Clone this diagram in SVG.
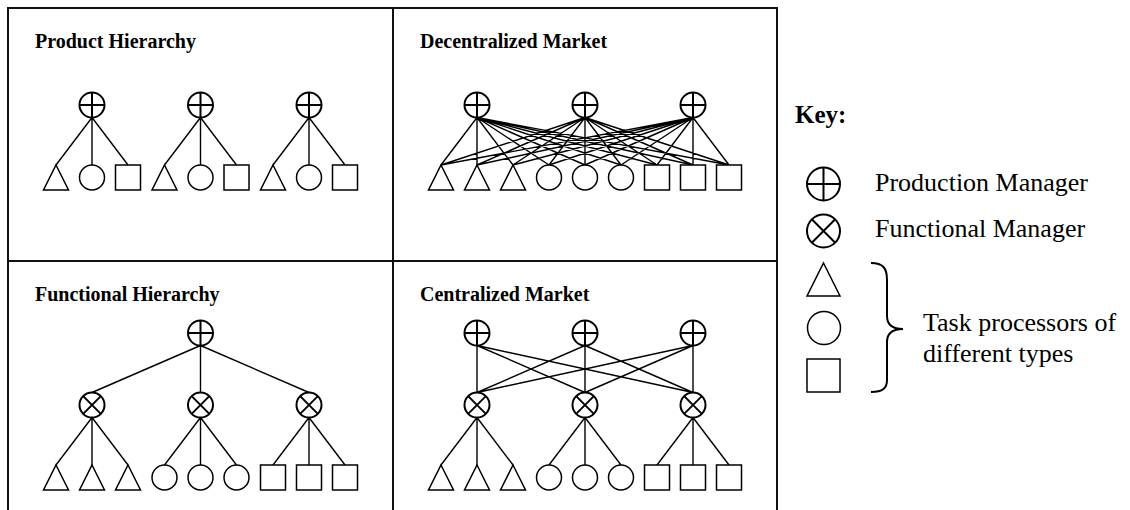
<svg xmlns="http://www.w3.org/2000/svg" xmlns:xlink="http://www.w3.org/1999/xlink" width="1130" height="510" viewBox="0 0 1130 510">
<style>
.frame{fill:none;stroke:#111;stroke-width:2}
.edge{stroke:#000;stroke-width:1.4;fill:none}
.mgr{fill:#fff;stroke:#000;stroke-width:2}
.mline{stroke:#000;stroke-width:2;fill:none}
.proc{fill:#fff;stroke:#000;stroke-width:1.5}
.title{font-family:"Liberation Serif","Times New Roman",serif;font-weight:bold;font-size:20px;fill:#000}
.key{font-family:"Liberation Serif","Times New Roman",serif;font-size:26px;fill:#000}
.keyb{font-family:"Liberation Serif","Times New Roman",serif;font-weight:bold;font-size:25px;fill:#000}
</style>
<defs>
<g id="pm"><circle r="12.5" class="mgr"/><path class="mline" d="M0,-12.5V12.5M-12.5,0H12.5"/></g>
<g id="fm"><circle r="12.5" class="mgr"/><path class="mline" d="M-8.84,-8.84L8.84,8.84M-8.84,8.84L8.84,-8.84"/></g>
<path id="tri" class="proc" d="M0,-12.5L12.5,12.5H-12.5Z"/>
<circle id="circ" class="proc" r="12.5"/>
<rect id="sq" class="proc" x="-12.5" y="-12.5" width="25" height="25"/>
</defs>
<rect width="1130" height="510" fill="#fff"/>
<g id="frame">
<path class="frame" d="M8,510V8H777V510M393,8V510M8,261H777"/>
</g>
<g id="titles">
<text class="title" x="35" y="48">Product Hierarchy</text>
<text class="title" x="420" y="48">Decentralized Market</text>
<text class="title" x="35" y="301">Functional Hierarchy</text>
<text class="title" x="420" y="301">Centralized Market</text>
</g>
<g id="connectors">
<path class="edge" d="M92,117.5L56,165M92,117.5L92,165M92,117.5L128,165M200.5,117.5L164.5,165M200.5,117.5L200.5,165M200.5,117.5L236.5,165M309,117.5L273,165M309,117.5L309,165M309,117.5L345,165"/>
<path class="edge" d="M477,117.5L441,165M477,117.5L477,165M477,117.5L513,165M477,117.5L549,165M477,117.5L585,165M477,117.5L621,165M477,117.5L657,165M477,117.5L693,165M477,117.5L729,165M585,117.5L441,165M585,117.5L477,165M585,117.5L513,165M585,117.5L549,165M585,117.5L585,165M585,117.5L621,165M585,117.5L657,165M585,117.5L693,165M585,117.5L729,165M693,117.5L441,165M693,117.5L477,165M693,117.5L513,165M693,117.5L549,165M693,117.5L585,165M693,117.5L621,165M693,117.5L657,165M693,117.5L693,165M693,117.5L729,165"/>
<path class="edge" d="M200.5,345.5L92,392.5M200.5,345.5L200.5,392.5M200.5,345.5L309,392.5M92,417.5L56,465M92,417.5L92,465M92,417.5L128,465M200.5,417.5L164.5,465M200.5,417.5L200.5,465M200.5,417.5L236.5,465M309,417.5L273,465M309,417.5L309,465M309,417.5L345,465"/>
<path class="edge" d="M477,345.5L477,392.5M477,345.5L585,392.5M477,345.5L693,392.5M585,345.5L477,392.5M585,345.5L585,392.5M585,345.5L693,392.5M693,345.5L477,392.5M693,345.5L585,392.5M693,345.5L693,392.5M477,417.5L441,465M477,417.5L477,465M477,417.5L513,465M585,417.5L549,465M585,417.5L585,465M585,417.5L621,465M693,417.5L657,465M693,417.5L693,465M693,417.5L729,465"/>
</g>
<g id="ph-pm1"><use xlink:href="#pm" x="92" y="105"/></g>
<g id="ph-pm2"><use xlink:href="#pm" x="200.5" y="105"/></g>
<g id="ph-pm3"><use xlink:href="#pm" x="309" y="105"/></g>
<g id="ph-t1"><use xlink:href="#tri" x="56" y="177.5"/></g>
<g id="ph-c1"><use xlink:href="#circ" x="92" y="177.5"/></g>
<g id="ph-s1"><use xlink:href="#sq" x="128" y="177.5"/></g>
<g id="ph-t2"><use xlink:href="#tri" x="164.5" y="177.5"/></g>
<g id="ph-c2"><use xlink:href="#circ" x="200.5" y="177.5"/></g>
<g id="ph-s2"><use xlink:href="#sq" x="236.5" y="177.5"/></g>
<g id="ph-t3"><use xlink:href="#tri" x="273" y="177.5"/></g>
<g id="ph-c3"><use xlink:href="#circ" x="309" y="177.5"/></g>
<g id="ph-s3"><use xlink:href="#sq" x="345" y="177.5"/></g>
<g id="dm-pm1"><use xlink:href="#pm" x="477" y="105"/></g>
<g id="dm-pm2"><use xlink:href="#pm" x="585" y="105"/></g>
<g id="dm-pm3"><use xlink:href="#pm" x="693" y="105"/></g>
<g id="dm-t1"><use xlink:href="#tri" x="441" y="177.5"/></g>
<g id="dm-t2"><use xlink:href="#tri" x="477" y="177.5"/></g>
<g id="dm-t3"><use xlink:href="#tri" x="513" y="177.5"/></g>
<g id="dm-c1"><use xlink:href="#circ" x="549" y="177.5"/></g>
<g id="dm-c2"><use xlink:href="#circ" x="585" y="177.5"/></g>
<g id="dm-c3"><use xlink:href="#circ" x="621" y="177.5"/></g>
<g id="dm-s1"><use xlink:href="#sq" x="657" y="177.5"/></g>
<g id="dm-s2"><use xlink:href="#sq" x="693" y="177.5"/></g>
<g id="dm-s3"><use xlink:href="#sq" x="729" y="177.5"/></g>
<g id="fh-pm"><use xlink:href="#pm" x="200.5" y="333"/></g>
<g id="fh-fm1"><use xlink:href="#fm" x="92" y="405"/></g>
<g id="fh-fm2"><use xlink:href="#fm" x="200.5" y="405"/></g>
<g id="fh-fm3"><use xlink:href="#fm" x="309" y="405"/></g>
<g id="fh-t1"><use xlink:href="#tri" x="56" y="477.5"/></g>
<g id="fh-t2"><use xlink:href="#tri" x="92" y="477.5"/></g>
<g id="fh-t3"><use xlink:href="#tri" x="128" y="477.5"/></g>
<g id="fh-c1"><use xlink:href="#circ" x="164.5" y="477.5"/></g>
<g id="fh-c2"><use xlink:href="#circ" x="200.5" y="477.5"/></g>
<g id="fh-c3"><use xlink:href="#circ" x="236.5" y="477.5"/></g>
<g id="fh-s1"><use xlink:href="#sq" x="273" y="477.5"/></g>
<g id="fh-s2"><use xlink:href="#sq" x="309" y="477.5"/></g>
<g id="fh-s3"><use xlink:href="#sq" x="345" y="477.5"/></g>
<g id="cm-pm1"><use xlink:href="#pm" x="477" y="333"/></g>
<g id="cm-pm2"><use xlink:href="#pm" x="585" y="333"/></g>
<g id="cm-pm3"><use xlink:href="#pm" x="693" y="333"/></g>
<g id="cm-fm1"><use xlink:href="#fm" x="477" y="405"/></g>
<g id="cm-fm2"><use xlink:href="#fm" x="585" y="405"/></g>
<g id="cm-fm3"><use xlink:href="#fm" x="693" y="405"/></g>
<g id="cm-t1"><use xlink:href="#tri" x="441" y="477.5"/></g>
<g id="cm-t2"><use xlink:href="#tri" x="477" y="477.5"/></g>
<g id="cm-t3"><use xlink:href="#tri" x="513" y="477.5"/></g>
<g id="cm-c1"><use xlink:href="#circ" x="549" y="477.5"/></g>
<g id="cm-c2"><use xlink:href="#circ" x="585" y="477.5"/></g>
<g id="cm-c3"><use xlink:href="#circ" x="621" y="477.5"/></g>
<g id="cm-s1"><use xlink:href="#sq" x="657" y="477.5"/></g>
<g id="cm-s2"><use xlink:href="#sq" x="693" y="477.5"/></g>
<g id="cm-s3"><use xlink:href="#sq" x="729" y="477.5"/></g>
<g id="key-title"><text class="keyb" x="795" y="123">Key:</text></g>
<g id="key-pm">
<circle class="mgr" cx="823.5" cy="184" r="16.5"/>
<path class="mline" d="M823.5,167.5V200.5M807,184H840"/>
<text class="key" x="875" y="191">Production Manager</text>
</g>
<g id="key-fm">
<circle class="mgr" cx="823.5" cy="231" r="16.5"/>
<path class="mline" d="M811.8,219.3L835.2,242.7M811.8,242.7L835.2,219.3"/>
<text class="key" x="875" y="237">Functional Manager</text>
</g>
<g id="key-tri"><path class="proc" d="M823.5,263L840,296H807Z"/></g>
<g id="key-circ"><circle class="proc" cx="824" cy="328" r="16.5"/></g>
<g id="key-sq"><rect class="proc" x="807" y="359" width="33" height="33"/></g>
<g id="key-brace">
<path class="edge" style="stroke-width:2" d="M871,263C883,263 887,268 887,280V316C887,325 892,329 903,329C892,329 887,333 887,342V380C887,388 883,392 871,392"/>
<text class="key" x="923" y="331">Task processors of</text>
<text class="key" x="923" y="362">different types</text>
</g>
</svg>
